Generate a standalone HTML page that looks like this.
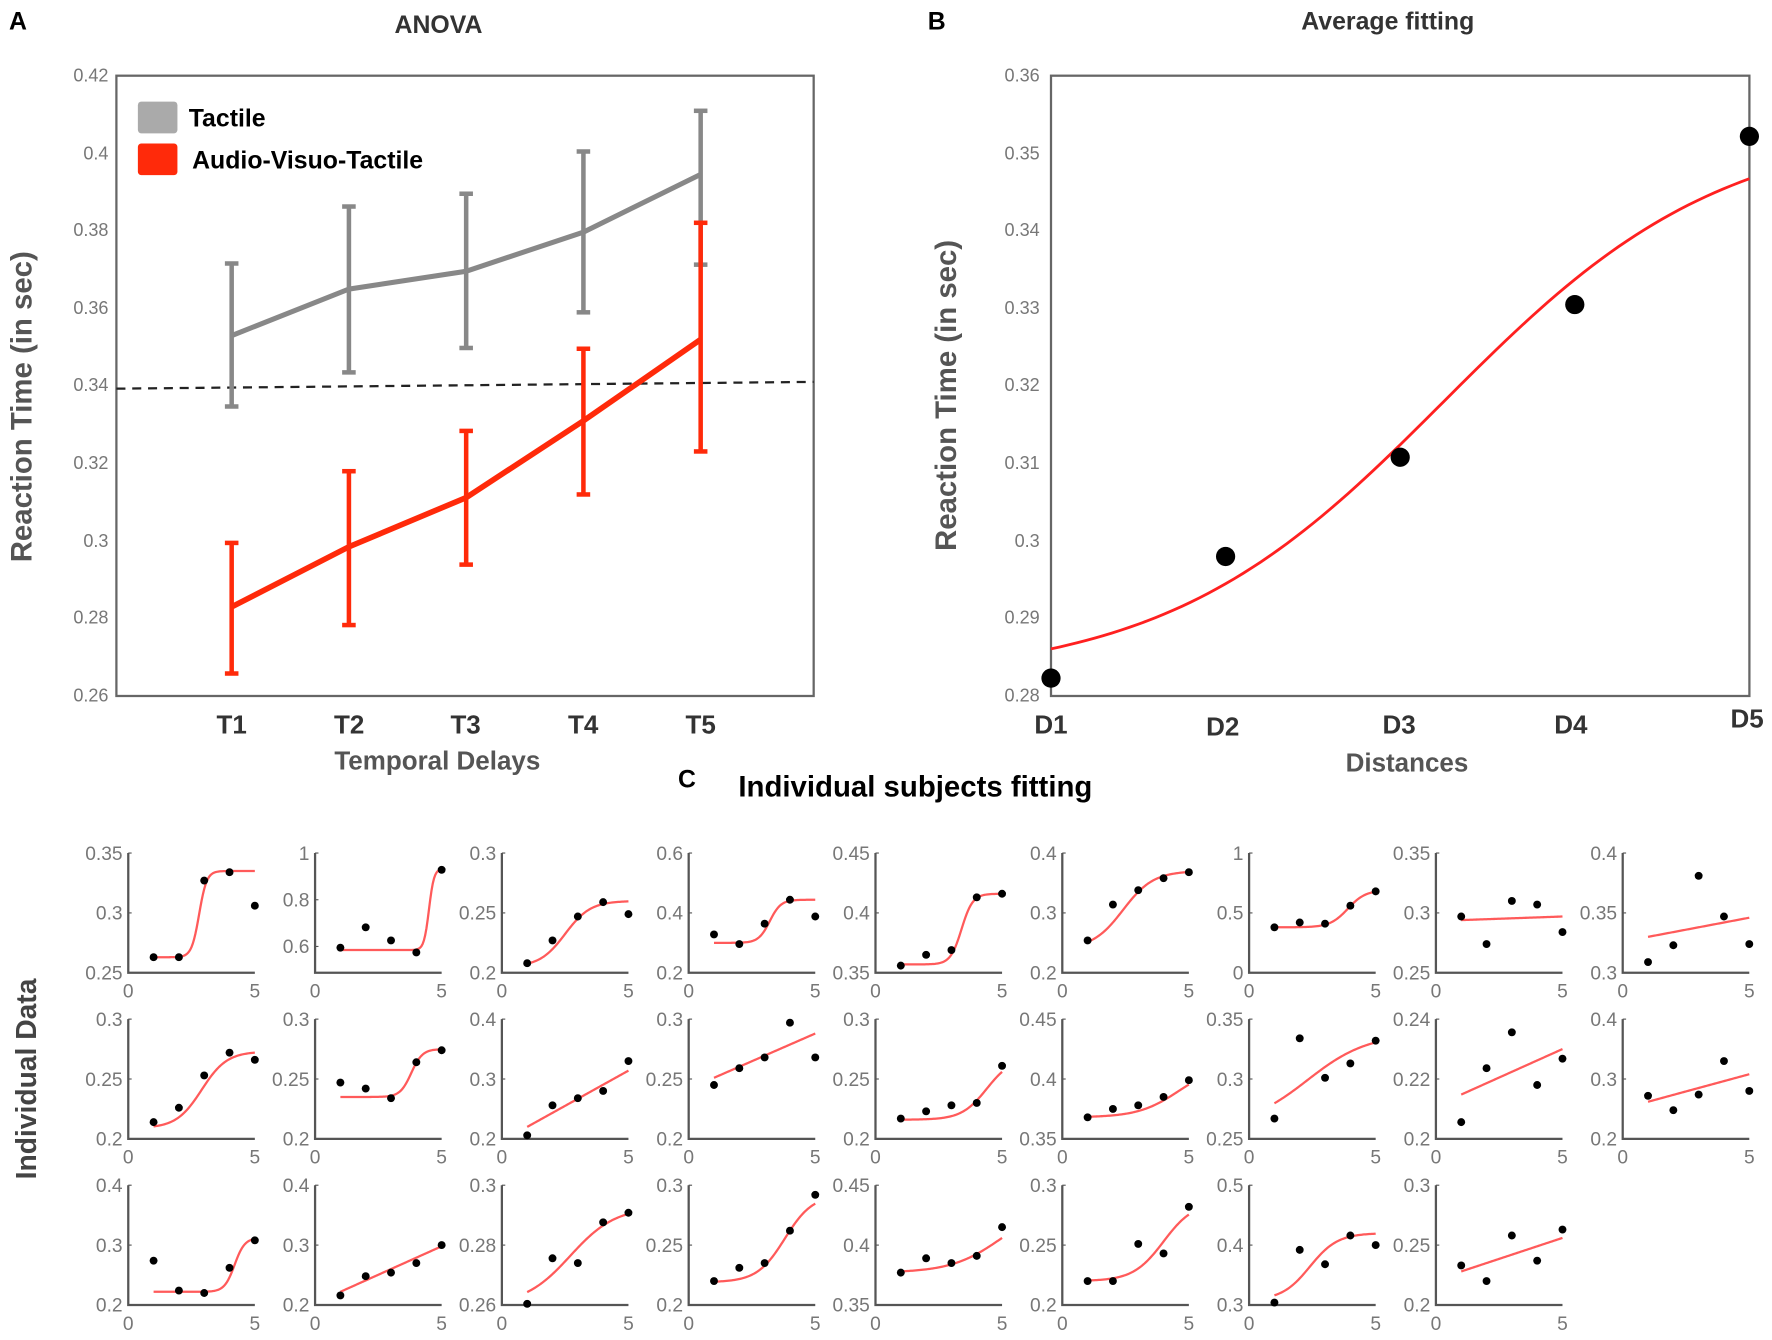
<!DOCTYPE html>
<html><head><meta charset="utf-8"><style>
html,body{margin:0;padding:0;background:#fff;}
svg{display:block;font-family:"Liberation Sans",Arial,sans-serif;}
</style></head><body>
<svg id="s" width="1772" height="1340" viewBox="0 0 1568 1186" preserveAspectRatio="none" xmlns="http://www.w3.org/2000/svg">
<rect width="1568" height="1186" fill="#fff"/>
<!-- Panel A -->
<text x="8" y="26" font-size="22" font-weight="bold">A</text>
<text x="388" y="29" font-size="22" font-weight="bold" fill="#333" text-anchor="middle">ANOVA</text>
<rect x="103" y="67" width="617" height="549" fill="none" stroke="#666" stroke-width="2"/>
<g font-size="16" fill="#777" text-anchor="end">
<text x="96" y="72">0.42</text><text x="96" y="141">0.4</text><text x="96" y="209">0.38</text><text x="96" y="278">0.36</text><text x="96" y="346">0.34</text><text x="96" y="415">0.32</text><text x="96" y="484">0.3</text><text x="96" y="552">0.28</text><text x="96" y="621">0.26</text>
</g>
<g font-size="23" font-weight="bold" fill="#333" text-anchor="middle">
<text x="205" y="649">T1</text><text x="309" y="649">T2</text><text x="412" y="649">T3</text><text x="516" y="649">T4</text><text x="620" y="649">T5</text>
</g>
<text x="387" y="681" font-size="23" font-weight="bold" fill="#555" text-anchor="middle">Temporal Delays</text>
<text transform="translate(28,360) rotate(-90)" font-size="26" font-weight="bold" fill="#555" text-anchor="middle">Reaction Time (in sec)</text>
<line x1="103" y1="344" x2="720" y2="338" stroke="#222" stroke-width="2" stroke-dasharray="8,6"/>
<g id="A"></g>
<rect x="122" y="90" width="35" height="28" fill="#aaa" rx="3"/>
<text x="167" y="112" font-size="22" font-weight="bold">Tactile</text>
<rect x="122" y="127" width="35" height="28" fill="#ff2a0a" rx="3"/>
<text x="170" y="149" font-size="22" font-weight="bold">Audio-Visuo-Tactile</text>
<!-- Panel B -->
<text x="821" y="26" font-size="22" font-weight="bold">B</text>
<text x="1228" y="26" font-size="22" font-weight="bold" fill="#333" text-anchor="middle">Average fitting</text>
<rect x="930" y="67" width="618" height="549" fill="none" stroke="#666" stroke-width="2"/>
<g font-size="16" fill="#777" text-anchor="end">
<text x="920" y="72">0.36</text><text x="920" y="141">0.35</text><text x="920" y="209">0.34</text><text x="920" y="278">0.33</text><text x="920" y="346">0.32</text><text x="920" y="415">0.31</text><text x="920" y="484">0.3</text><text x="920" y="552">0.29</text><text x="920" y="621">0.28</text>
</g>
<g font-size="23" font-weight="bold" fill="#333" text-anchor="middle">
<text x="930" y="649">D1</text><text x="1082" y="651">D2</text><text x="1238" y="649">D3</text><text x="1390" y="649">D4</text><text x="1546" y="644">D5</text>
</g>
<text x="1245" y="683" font-size="23" font-weight="bold" fill="#555" text-anchor="middle">Distances</text>
<text transform="translate(846,350) rotate(-90)" font-size="26" font-weight="bold" fill="#555" text-anchor="middle">Reaction Time (in sec)</text>
<g id="B"></g>
<!-- Panel C -->
<text x="600" y="697" font-size="22" font-weight="bold">C</text>
<text x="810" y="705" font-size="26" font-weight="bold" text-anchor="middle">Individual subjects fitting</text>
<text transform="translate(32,955) rotate(-90)" font-size="25" font-weight="bold" fill="#444" text-anchor="middle">Individual Data</text>
<g id="C"></g>
</svg>
<script>
var NS="http://www.w3.org/2000/svg";
function el(p,t,a,txt){var e=document.createElementNS(NS,t);for(var k in a)e.setAttribute(k,a[k]);if(txt!==undefined)e.textContent=txt;document.getElementById(p).appendChild(e);return e;}
function ay(v){return 616-(v-0.26)/0.02*68.6;}
function ax(i){return 205+i*103.75;}
var G={m:[0.353,0.365,0.3696,0.3797,0.3946],lo:[0.3347,0.3435,0.3498,0.359,0.3713],hi:[0.3716,0.3863,0.3896,0.4005,0.411]};
var R={m:[0.283,0.2985,0.3112,0.331,0.352],lo:[0.2658,0.2783,0.2939,0.312,0.3231],hi:[0.2995,0.318,0.3284,0.3496,0.3821]};
function series(d,c,w){
 var pts=d.m.map(function(v,i){return ax(i)+","+ay(v);}).join(" ");
 el("A","polyline",{points:pts,fill:"none",stroke:c,"stroke-width":w});
 for(var i=0;i<5;i++){var x=ax(i);
  el("A","line",{x1:x,x2:x,y1:ay(d.lo[i]),y2:ay(d.hi[i]),stroke:c,"stroke-width":4});
  el("A","line",{x1:x-6,x2:x+6,y1:ay(d.lo[i]),y2:ay(d.lo[i]),stroke:c,"stroke-width":4});
  el("A","line",{x1:x-6,x2:x+6,y1:ay(d.hi[i]),y2:ay(d.hi[i]),stroke:c,"stroke-width":4});}
}
series(G,"#888",4.5);series(R,"#ff2a0a",5);
function by(v){return 616-(v-0.28)/0.01*68.6;}
function bx(x){return 930+(x-1)*154.5;}
var p=[];for(var t=1;t<=5.0001;t+=0.05){var f=0.282+0.072/(1+Math.exp(-(t-3.25)/0.8));p.push(bx(t)+","+by(f));}
el("B","polyline",{points:p.join(" "),fill:"none",stroke:"#ff2020","stroke-width":2.5});
[0.2823,0.298,0.3108,0.3305,0.3522].forEach(function(v,i){el("B","circle",{cx:bx(i+1),cy:by(v),r:8.5,fill:"#000"});});
var tops=[755,902,1049];
var S=[
{l:["0.35","0.3","0.25"],p:[.13,.13,.77,.84,.56],c:["s",.13,.85,2.8,.15]},
{l:["1","0.8","0.6"],f:[1,.61,.22],p:[.21,.38,.27,.17,.86],c:["s",.19,.87,4.5,.1]},
{l:["0.3","0.25","0.2"],p:[.08,.27,.47,.59,.49],c:["s",.05,.6,2.5,.5]},
{l:["0.6","0.4","0.2"],p:[.32,.24,.41,.61,.47],c:["s",.25,.61,3.2,.22]},
{l:["0.45","0.4","0.35"],p:[.06,.15,.19,.63,.66],c:["s",.07,.66,3.4,.22]},
{l:["0.4","0.3","0.2"],p:[.27,.57,.69,.79,.84],c:["s",.2,.85,2.4,.6]},
{l:["1","0.5","0"],p:[.38,.42,.41,.56,.68],c:["s",.38,.69,3.9,.35]},
{l:["0.35","0.3","0.25"],p:[.47,.24,.6,.57,.34],c:["l",.44,.47]},
{l:["0.4","0.35","0.3"],p:[.09,.23,.81,.47,.24],c:["l",.3,.46]},
{l:["0.3","0.25","0.2"],p:[.14,.26,.53,.72,.66],c:["s",.09,.73,2.9,.5]},
{l:["0.3","0.25","0.2"],p:[.47,.42,.34,.64,.74],c:["s",.35,.75,3.8,.22]},
{l:["0.4","0.3","0.2"],p:[.03,.28,.34,.4,.65],c:["l",.1,.57]},
{l:["0.3","0.25","0.2"],p:[.45,.59,.68,.97,.68],c:["l",.51,.88]},
{l:["0.3","0.25","0.2"],p:[.17,.23,.28,.3,.61],c:["s",.16,.68,4.4,.5]},
{l:["0.45","0.4","0.35"],p:[.18,.25,.28,.35,.49],c:["s",.18,.62,4.6,.8]},
{l:["0.35","0.3","0.25"],p:[.17,.84,.51,.63,.82],c:["s",.1,.88,2.3,1.2]},
{l:["0.24","0.22","0.2"],p:[.14,.59,.89,.45,.67],c:["l",.37,.75]},
{l:["0.4","0.3","0.2"],p:[.36,.24,.37,.65,.4],c:["l",.31,.54]},
{l:["0.4","0.3","0.2"],p:[.37,.12,.1,.31,.54],c:["s",.11,.56,4.2,.2]},
{l:["0.4","0.3","0.2"],p:[.08,.24,.27,.35,.5],c:["l",.11,.49]},
{l:["0.3","0.28","0.26"],p:[.01,.39,.35,.69,.77],c:["s",0,.82,2.7,.9]},
{l:["0.3","0.25","0.2"],p:[.2,.31,.35,.62,.92],c:["s",.19,.92,3.8,.55]},
{l:["0.45","0.4","0.35"],p:[.27,.39,.35,.41,.65],c:["s",.27,.85,5,1]},
{l:["0.3","0.25","0.2"],p:[.2,.2,.51,.43,.82],c:["s",.2,.86,4.0,.6]},
{l:["0.5","0.4","0.3"],p:[.02,.46,.34,.58,.5],c:["s",.04,.6,2.4,.55]},
{l:["0.3","0.25","0.2"],p:[.33,.2,.58,.37,.63],c:["l",.28,.56]}
];
S.forEach(function(d,idx){
 var r=Math.floor(idx/9),k=idx%9;
 var X0=113.5+165.3*k,T=tops[r],H=106,B=T+H,W=112;
 function X(x){return X0+x*W/5;} function Y(f){return B-f*H;}
 el("C","polyline",{points:X0+","+T+" "+X0+","+B+" "+(X0+W)+","+B,fill:"none",stroke:"#555","stroke-width":2});
 var fr=d.f||[1,.5,0];
 for(var i=0;i<3;i++){
  el("C","text",{x:X0-5,y:Y(fr[i])+6,"font-size":17,fill:"#777","text-anchor":"end"},d.l[i]);
  el("C","line",{x1:X0,x2:X0+3,y1:Y(fr[i]),y2:Y(fr[i]),stroke:"#555","stroke-width":1});
 }
 el("C","text",{x:X0,y:B+22,"font-size":17,fill:"#777","text-anchor":"middle"},"0");
 el("C","text",{x:X0+W,y:B+22,"font-size":17,fill:"#777","text-anchor":"middle"},"5");
 var c=d.c,pp=[];
 for(var t=1;t<=5.0001;t+=0.05){var f;
  if(c[0]=="l")f=c[1]+(c[2]-c[1])*(t-1)/4;
  else f=c[1]+(c[2]-c[1])/(1+Math.exp(-(t-c[3])/c[4]));
  pp.push(X(t)+","+Y(f));}
 el("C","polyline",{points:pp.join(" "),fill:"none",stroke:"#ff5a5a","stroke-width":2});
 d.p.forEach(function(f,i){el("C","circle",{cx:X(i+1),cy:Y(f),r:3.5,fill:"#000"});});
});
</script>
</body></html>
